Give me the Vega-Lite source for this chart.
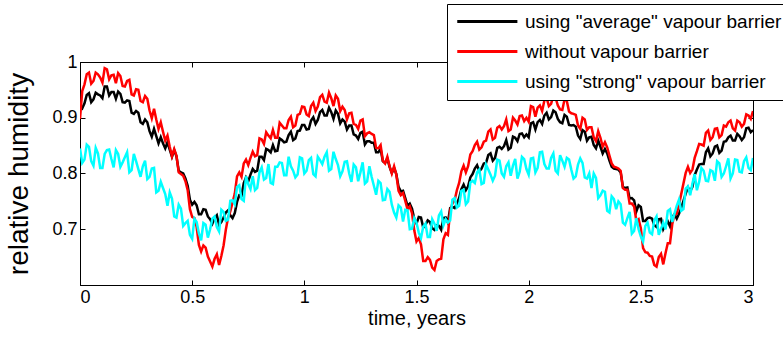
{
"$schema": "https://vega.github.io/schema/vega-lite/v6.json",
"width": 673, "height": 223,
"autosize": {"type": "none"},
"padding": {"left": 80, "top": 62, "right": 30, "bottom": 54},
"background": "white",
"config": {
 "view": {"stroke": "black", "strokeWidth": 1},
 "font": "Liberation Sans",
 "axis": {"grid": false, "domainColor": "black", "tickColor": "black", "tickSize": -5, "labelColor": "black", "labelFont": "Liberation Sans", "labelFontSize": 18, "titleFont": "Liberation Sans", "titleColor": "black", "titleFontWeight": "normal"}
},
"data": {"values": [
{"t":0.00,"a":0.921,"r":0.898,"s":0.845},
{"t":0.01,"a":0.917,"r":0.948,"s":0.819},
{"t":0.02,"a":0.926,"r":0.960,"s":0.825},
{"t":0.03,"a":0.941,"r":0.978,"s":0.852},
{"t":0.04,"a":0.944,"r":0.981,"s":0.848},
{"t":0.05,"a":0.928,"r":0.961,"s":0.822},
{"t":0.06,"a":0.933,"r":0.966,"s":0.814},
{"t":0.07,"a":0.945,"r":0.981,"s":0.846},
{"t":0.08,"a":0.942,"r":0.978,"s":0.836},
{"t":0.09,"a":0.940,"r":0.972,"s":0.810},
{"t":0.10,"a":0.935,"r":0.963,"s":0.810},
{"t":0.11,"a":0.956,"r":0.989,"s":0.835},
{"t":0.12,"a":0.956,"r":0.987,"s":0.842},
{"t":0.13,"a":0.940,"r":0.969,"s":0.843},
{"t":0.14,"a":0.946,"r":0.976,"s":0.826},
{"t":0.15,"a":0.946,"r":0.977,"s":0.811},
{"t":0.16,"a":0.934,"r":0.962,"s":0.842},
{"t":0.17,"a":0.947,"r":0.980,"s":0.835},
{"t":0.18,"a":0.943,"r":0.975,"s":0.812},
{"t":0.19,"a":0.928,"r":0.957,"s":0.820},
{"t":0.20,"a":0.927,"r":0.956,"s":0.829},
{"t":0.21,"a":0.931,"r":0.966,"s":0.838},
{"t":0.22,"a":0.930,"r":0.968,"s":0.802},
{"t":0.23,"a":0.909,"r":0.942,"s":0.806},
{"t":0.24,"a":0.907,"r":0.940,"s":0.835},
{"t":0.25,"a":0.912,"r":0.951,"s":0.822},
{"t":0.26,"a":0.909,"r":0.950,"s":0.808},
{"t":0.27,"a":0.892,"r":0.930,"s":0.794},
{"t":0.28,"a":0.889,"r":0.928,"s":0.813},
{"t":0.29,"a":0.897,"r":0.939,"s":0.823},
{"t":0.30,"a":0.892,"r":0.934,"s":0.790},
{"t":0.31,"a":0.876,"r":0.913,"s":0.794},
{"t":0.32,"a":0.866,"r":0.899,"s":0.809},
{"t":0.33,"a":0.880,"r":0.916,"s":0.810},
{"t":0.34,"a":0.867,"r":0.897,"s":0.766},
{"t":0.35,"a":0.854,"r":0.880,"s":0.769},
{"t":0.36,"a":0.865,"r":0.892,"s":0.785},
{"t":0.37,"a":0.854,"r":0.875,"s":0.774},
{"t":0.38,"a":0.845,"r":0.859,"s":0.763},
{"t":0.39,"a":0.856,"r":0.868,"s":0.742},
{"t":0.40,"a":0.843,"r":0.848,"s":0.766},
{"t":0.41,"a":0.830,"r":0.831,"s":0.755},
{"t":0.42,"a":0.842,"r":0.844,"s":0.723},
{"t":0.43,"a":0.831,"r":0.832,"s":0.721},
{"t":0.44,"a":0.805,"r":0.802,"s":0.744},
{"t":0.45,"a":0.802,"r":0.799,"s":0.737},
{"t":0.46,"a":0.800,"r":0.796,"s":0.706},
{"t":0.47,"a":0.791,"r":0.786,"s":0.711},
{"t":0.48,"a":0.778,"r":0.770,"s":0.715},
{"t":0.49,"a":0.753,"r":0.736,"s":0.690},
{"t":0.50,"a":0.744,"r":0.722,"s":0.683},
{"t":0.51,"a":0.749,"r":0.720,"s":0.719},
{"t":0.52,"a":0.743,"r":0.704,"s":0.713},
{"t":0.53,"a":0.727,"r":0.672,"s":0.693},
{"t":0.54,"a":0.727,"r":0.660,"s":0.680},
{"t":0.55,"a":0.736,"r":0.671,"s":0.711},
{"t":0.56,"a":0.735,"r":0.667,"s":0.708},
{"t":0.57,"a":0.723,"r":0.651,"s":0.685},
{"t":0.58,"a":0.718,"r":0.642,"s":0.700},
{"t":0.59,"a":0.710,"r":0.633,"s":0.719},
{"t":0.60,"a":0.720,"r":0.647,"s":0.723},
{"t":0.61,"a":0.725,"r":0.655,"s":0.704},
{"t":0.62,"a":0.708,"r":0.636,"s":0.696},
{"t":0.63,"a":0.713,"r":0.652,"s":0.735},
{"t":0.64,"a":0.721,"r":0.671,"s":0.731},
{"t":0.65,"a":0.730,"r":0.699,"s":0.715},
{"t":0.66,"a":0.734,"r":0.721,"s":0.717},
{"t":0.67,"a":0.725,"r":0.732,"s":0.751},
{"t":0.68,"a":0.720,"r":0.748,"s":0.752},
{"t":0.69,"a":0.729,"r":0.764,"s":0.745},
{"t":0.70,"a":0.749,"r":0.795,"s":0.776},
{"t":0.71,"a":0.761,"r":0.802,"s":0.779},
{"t":0.72,"a":0.760,"r":0.794,"s":0.754},
{"t":0.73,"a":0.783,"r":0.818,"s":0.751},
{"t":0.74,"a":0.793,"r":0.825,"s":0.795},
{"t":0.75,"a":0.786,"r":0.815,"s":0.781},
{"t":0.76,"a":0.798,"r":0.828,"s":0.772},
{"t":0.77,"a":0.808,"r":0.839,"s":0.795},
{"t":0.78,"a":0.803,"r":0.831,"s":0.770},
{"t":0.79,"a":0.805,"r":0.833,"s":0.774},
{"t":0.80,"a":0.830,"r":0.863,"s":0.802},
{"t":0.81,"a":0.830,"r":0.861,"s":0.811},
{"t":0.82,"a":0.824,"r":0.853,"s":0.789},
{"t":0.83,"a":0.844,"r":0.874,"s":0.792},
{"t":0.84,"a":0.842,"r":0.868,"s":0.817},
{"t":0.85,"a":0.838,"r":0.863,"s":0.783},
{"t":0.86,"a":0.851,"r":0.878,"s":0.781},
{"t":0.87,"a":0.840,"r":0.864,"s":0.812},
{"t":0.88,"a":0.841,"r":0.864,"s":0.812},
{"t":0.89,"a":0.863,"r":0.891,"s":0.820},
{"t":0.90,"a":0.860,"r":0.886,"s":0.819},
{"t":0.91,"a":0.856,"r":0.881,"s":0.797},
{"t":0.92,"a":0.857,"r":0.881,"s":0.797},
{"t":0.93,"a":0.869,"r":0.896,"s":0.830},
{"t":0.94,"a":0.875,"r":0.902,"s":0.813},
{"t":0.95,"a":0.860,"r":0.883,"s":0.805},
{"t":0.96,"a":0.863,"r":0.886,"s":0.793},
{"t":0.97,"a":0.876,"r":0.905,"s":0.798},
{"t":0.98,"a":0.877,"r":0.907,"s":0.829},
{"t":0.99,"a":0.887,"r":0.920,"s":0.827},
{"t":1.00,"a":0.887,"r":0.919,"s":0.800},
{"t":1.01,"a":0.879,"r":0.906,"s":0.805},
{"t":1.02,"a":0.880,"r":0.903,"s":0.824},
{"t":1.03,"a":0.895,"r":0.921,"s":0.828},
{"t":1.04,"a":0.901,"r":0.927,"s":0.799},
{"t":1.05,"a":0.889,"r":0.912,"s":0.795},
{"t":1.06,"a":0.896,"r":0.920,"s":0.830},
{"t":1.07,"a":0.910,"r":0.937,"s":0.824},
{"t":1.08,"a":0.914,"r":0.941,"s":0.817},
{"t":1.09,"a":0.904,"r":0.929,"s":0.830},
{"t":1.10,"a":0.904,"r":0.927,"s":0.838},
{"t":1.11,"a":0.918,"r":0.945,"s":0.805},
{"t":1.12,"a":0.910,"r":0.935,"s":0.808},
{"t":1.13,"a":0.898,"r":0.921,"s":0.839},
{"t":1.14,"a":0.913,"r":0.940,"s":0.826},
{"t":1.15,"a":0.907,"r":0.934,"s":0.815},
{"t":1.16,"a":0.890,"r":0.912,"s":0.795},
{"t":1.17,"a":0.897,"r":0.920,"s":0.804},
{"t":1.18,"a":0.893,"r":0.914,"s":0.821},
{"t":1.19,"a":0.879,"r":0.897,"s":0.822},
{"t":1.20,"a":0.886,"r":0.908,"s":0.800},
{"t":1.21,"a":0.886,"r":0.909,"s":0.785},
{"t":1.22,"a":0.870,"r":0.889,"s":0.816},
{"t":1.23,"a":0.868,"r":0.887,"s":0.811},
{"t":1.24,"a":0.862,"r":0.880,"s":0.786},
{"t":1.25,"a":0.873,"r":0.895,"s":0.802},
{"t":1.26,"a":0.875,"r":0.897,"s":0.820},
{"t":1.27,"a":0.852,"r":0.867,"s":0.782},
{"t":1.28,"a":0.858,"r":0.872,"s":0.786},
{"t":1.29,"a":0.858,"r":0.874,"s":0.813},
{"t":1.30,"a":0.855,"r":0.871,"s":0.794},
{"t":1.31,"a":0.855,"r":0.869,"s":0.778},
{"t":1.32,"a":0.838,"r":0.846,"s":0.762},
{"t":1.33,"a":0.838,"r":0.845,"s":0.787},
{"t":1.34,"a":0.844,"r":0.851,"s":0.783},
{"t":1.35,"a":0.822,"r":0.823,"s":0.752},
{"t":1.36,"a":0.819,"r":0.818,"s":0.753},
{"t":1.37,"a":0.827,"r":0.830,"s":0.772},
{"t":1.38,"a":0.812,"r":0.813,"s":0.767},
{"t":1.39,"a":0.801,"r":0.800,"s":0.744},
{"t":1.40,"a":0.810,"r":0.813,"s":0.730},
{"t":1.41,"a":0.799,"r":0.798,"s":0.721},
{"t":1.42,"a":0.776,"r":0.769,"s":0.743},
{"t":1.43,"a":0.768,"r":0.761,"s":0.739},
{"t":1.44,"a":0.769,"r":0.765,"s":0.714},
{"t":1.45,"a":0.756,"r":0.751,"s":0.735},
{"t":1.46,"a":0.742,"r":0.736,"s":0.734},
{"t":1.47,"a":0.746,"r":0.741,"s":0.700},
{"t":1.48,"a":0.737,"r":0.729,"s":0.701},
{"t":1.49,"a":0.719,"r":0.698,"s":0.720},
{"t":1.50,"a":0.710,"r":0.678,"s":0.712},
{"t":1.51,"a":0.722,"r":0.684,"s":0.694},
{"t":1.52,"a":0.721,"r":0.673,"s":0.684},
{"t":1.53,"a":0.703,"r":0.643,"s":0.705},
{"t":1.54,"a":0.708,"r":0.643,"s":0.710},
{"t":1.55,"a":0.716,"r":0.650,"s":0.686},
{"t":1.56,"a":0.713,"r":0.645,"s":0.686},
{"t":1.57,"a":0.702,"r":0.631,"s":0.718},
{"t":1.58,"a":0.699,"r":0.627,"s":0.710},
{"t":1.59,"a":0.707,"r":0.643,"s":0.697},
{"t":1.60,"a":0.706,"r":0.646,"s":0.725},
{"t":1.61,"a":0.699,"r":0.647,"s":0.732},
{"t":1.62,"a":0.720,"r":0.682,"s":0.707},
{"t":1.63,"a":0.721,"r":0.693,"s":0.718},
{"t":1.64,"a":0.712,"r":0.690,"s":0.712},
{"t":1.65,"a":0.738,"r":0.733,"s":0.716},
{"t":1.66,"a":0.740,"r":0.746,"s":0.753},
{"t":1.67,"a":0.738,"r":0.752,"s":0.756},
{"t":1.68,"a":0.746,"r":0.770,"s":0.739},
{"t":1.69,"a":0.756,"r":0.783,"s":0.742},
{"t":1.70,"a":0.772,"r":0.804,"s":0.769},
{"t":1.71,"a":0.780,"r":0.814,"s":0.771},
{"t":1.72,"a":0.770,"r":0.802,"s":0.745},
{"t":1.73,"a":0.777,"r":0.813,"s":0.750},
{"t":1.74,"a":0.793,"r":0.834,"s":0.784},
{"t":1.75,"a":0.799,"r":0.840,"s":0.787},
{"t":1.76,"a":0.809,"r":0.851,"s":0.783},
{"t":1.77,"a":0.815,"r":0.857,"s":0.802},
{"t":1.78,"a":0.804,"r":0.843,"s":0.807},
{"t":1.79,"a":0.809,"r":0.847,"s":0.781},
{"t":1.80,"a":0.818,"r":0.857,"s":0.783},
{"t":1.81,"a":0.819,"r":0.859,"s":0.816},
{"t":1.82,"a":0.833,"r":0.875,"s":0.807},
{"t":1.83,"a":0.836,"r":0.879,"s":0.798},
{"t":1.84,"a":0.823,"r":0.861,"s":0.787},
{"t":1.85,"a":0.828,"r":0.864,"s":0.796},
{"t":1.86,"a":0.846,"r":0.882,"s":0.825},
{"t":1.87,"a":0.848,"r":0.885,"s":0.823},
{"t":1.88,"a":0.844,"r":0.879,"s":0.800},
{"t":1.89,"a":0.849,"r":0.885,"s":0.794},
{"t":1.90,"a":0.860,"r":0.897,"s":0.813},
{"t":1.91,"a":0.843,"r":0.876,"s":0.820},
{"t":1.92,"a":0.846,"r":0.879,"s":0.796},
{"t":1.93,"a":0.866,"r":0.900,"s":0.814},
{"t":1.94,"a":0.864,"r":0.895,"s":0.826},
{"t":1.95,"a":0.858,"r":0.888,"s":0.791},
{"t":1.96,"a":0.871,"r":0.903,"s":0.803},
{"t":1.97,"a":0.872,"r":0.904,"s":0.830},
{"t":1.98,"a":0.865,"r":0.894,"s":0.826},
{"t":1.99,"a":0.870,"r":0.900,"s":0.808},
{"t":2.00,"a":0.865,"r":0.893,"s":0.798},
{"t":2.01,"a":0.890,"r":0.921,"s":0.827},
{"t":2.02,"a":0.892,"r":0.919,"s":0.828},
{"t":2.03,"a":0.879,"r":0.902,"s":0.802},
{"t":2.04,"a":0.892,"r":0.918,"s":0.810},
{"t":2.05,"a":0.896,"r":0.922,"s":0.838},
{"t":2.06,"a":0.889,"r":0.912,"s":0.839},
{"t":2.07,"a":0.904,"r":0.931,"s":0.817},
{"t":2.08,"a":0.909,"r":0.936,"s":0.809},
{"t":2.09,"a":0.897,"r":0.921,"s":0.809},
{"t":2.10,"a":0.901,"r":0.925,"s":0.828},
{"t":2.11,"a":0.913,"r":0.940,"s":0.836},
{"t":2.12,"a":0.910,"r":0.936,"s":0.805},
{"t":2.13,"a":0.898,"r":0.922,"s":0.800},
{"t":2.14,"a":0.892,"r":0.915,"s":0.833},
{"t":2.15,"a":0.890,"r":0.914,"s":0.823},
{"t":2.16,"a":0.905,"r":0.933,"s":0.812},
{"t":2.17,"a":0.902,"r":0.930,"s":0.828},
{"t":2.18,"a":0.887,"r":0.911,"s":0.825},
{"t":2.19,"a":0.886,"r":0.908,"s":0.807},
{"t":2.20,"a":0.887,"r":0.907,"s":0.791},
{"t":2.21,"a":0.884,"r":0.905,"s":0.795},
{"t":2.22,"a":0.868,"r":0.886,"s":0.816},
{"t":2.23,"a":0.862,"r":0.880,"s":0.827},
{"t":2.24,"a":0.878,"r":0.900,"s":0.819},
{"t":2.25,"a":0.875,"r":0.897,"s":0.793},
{"t":2.26,"a":0.859,"r":0.878,"s":0.791},
{"t":2.27,"a":0.865,"r":0.883,"s":0.800},
{"t":2.28,"a":0.866,"r":0.883,"s":0.774},
{"t":2.29,"a":0.851,"r":0.865,"s":0.800},
{"t":2.30,"a":0.845,"r":0.858,"s":0.792},
{"t":2.31,"a":0.859,"r":0.876,"s":0.756},
{"t":2.32,"a":0.848,"r":0.864,"s":0.761},
{"t":2.33,"a":0.836,"r":0.848,"s":0.769},
{"t":2.34,"a":0.844,"r":0.856,"s":0.767},
{"t":2.35,"a":0.836,"r":0.847,"s":0.733},
{"t":2.36,"a":0.823,"r":0.832,"s":0.730},
{"t":2.37,"a":0.812,"r":0.818,"s":0.759},
{"t":2.38,"a":0.809,"r":0.812,"s":0.754},
{"t":2.39,"a":0.808,"r":0.811,"s":0.736},
{"t":2.40,"a":0.807,"r":0.809,"s":0.750},
{"t":2.41,"a":0.802,"r":0.805,"s":0.745},
{"t":2.42,"a":0.776,"r":0.774,"s":0.712},
{"t":2.43,"a":0.774,"r":0.771,"s":0.708},
{"t":2.44,"a":0.775,"r":0.771,"s":0.720},
{"t":2.45,"a":0.755,"r":0.746,"s":0.731},
{"t":2.46,"a":0.756,"r":0.746,"s":0.692},
{"t":2.47,"a":0.752,"r":0.741,"s":0.697},
{"t":2.48,"a":0.732,"r":0.715,"s":0.720},
{"t":2.49,"a":0.743,"r":0.718,"s":0.700},
{"t":2.50,"a":0.740,"r":0.702,"s":0.687},
{"t":2.51,"a":0.715,"r":0.666,"s":0.678},
{"t":2.52,"a":0.715,"r":0.659,"s":0.706},
{"t":2.53,"a":0.720,"r":0.658,"s":0.712},
{"t":2.54,"a":0.721,"r":0.652,"s":0.694},
{"t":2.55,"a":0.719,"r":0.651,"s":0.691},
{"t":2.56,"a":0.707,"r":0.636,"s":0.716},
{"t":2.57,"a":0.704,"r":0.633,"s":0.723},
{"t":2.58,"a":0.718,"r":0.650,"s":0.690},
{"t":2.59,"a":0.719,"r":0.656,"s":0.701},
{"t":2.60,"a":0.700,"r":0.637,"s":0.712},
{"t":2.61,"a":0.708,"r":0.657,"s":0.700},
{"t":2.62,"a":0.714,"r":0.675,"s":0.733},
{"t":2.63,"a":0.705,"r":0.675,"s":0.736},
{"t":2.64,"a":0.722,"r":0.709,"s":0.713},
{"t":2.65,"a":0.727,"r":0.727,"s":0.728},
{"t":2.66,"a":0.719,"r":0.728,"s":0.742},
{"t":2.67,"a":0.728,"r":0.744,"s":0.753},
{"t":2.68,"a":0.738,"r":0.763,"s":0.733},
{"t":2.69,"a":0.751,"r":0.782,"s":0.736},
{"t":2.70,"a":0.764,"r":0.801,"s":0.773},
{"t":2.71,"a":0.775,"r":0.812,"s":0.777},
{"t":2.72,"a":0.768,"r":0.801,"s":0.761},
{"t":2.73,"a":0.776,"r":0.807,"s":0.782},
{"t":2.74,"a":0.797,"r":0.828,"s":0.799},
{"t":2.75,"a":0.807,"r":0.840,"s":0.770},
{"t":2.76,"a":0.816,"r":0.853,"s":0.785},
{"t":2.77,"a":0.817,"r":0.852,"s":0.810},
{"t":2.78,"a":0.817,"r":0.850,"s":0.805},
{"t":2.79,"a":0.838,"r":0.873,"s":0.787},
{"t":2.80,"a":0.845,"r":0.877,"s":0.786},
{"t":2.81,"a":0.831,"r":0.860,"s":0.806},
{"t":2.82,"a":0.836,"r":0.865,"s":0.804},
{"t":2.83,"a":0.848,"r":0.880,"s":0.787},
{"t":2.84,"a":0.850,"r":0.881,"s":0.822},
{"t":2.85,"a":0.837,"r":0.865,"s":0.818},
{"t":2.86,"a":0.841,"r":0.869,"s":0.794},
{"t":2.87,"a":0.857,"r":0.886,"s":0.800},
{"t":2.88,"a":0.858,"r":0.884,"s":0.813},
{"t":2.89,"a":0.865,"r":0.892,"s":0.827},
{"t":2.90,"a":0.868,"r":0.895,"s":0.791},
{"t":2.91,"a":0.859,"r":0.881,"s":0.800},
{"t":2.92,"a":0.859,"r":0.877,"s":0.825},
{"t":2.93,"a":0.871,"r":0.895,"s":0.824},
{"t":2.94,"a":0.867,"r":0.892,"s":0.803},
{"t":2.95,"a":0.860,"r":0.884,"s":0.802},
{"t":2.96,"a":0.865,"r":0.889,"s":0.822},
{"t":2.97,"a":0.881,"r":0.906,"s":0.829},
{"t":2.98,"a":0.882,"r":0.904,"s":0.810},
{"t":2.99,"a":0.874,"r":0.898,"s":0.806},
{"t":3.00,"a":0.878,"r":0.912,"s":0.828}
]},
"layer": [
 {"mark": {"type": "line", "strokeWidth": 2.5, "clip": true},
  "encoding": {
   "x": {"field": "t", "type": "quantitative", "scale": {"domain": [0, 3], "nice": false, "zero": false},
         "axis": {"values": [0, 0.5, 1, 1.5, 2, 2.5, 3], "format": "~g", "title": "time, years", "titleFontSize": 20, "labelPadding": 8, "titlePadding": 2}},
   "y": {"field": "a", "type": "quantitative", "scale": {"domain": [0.6, 1], "nice": false, "zero": false},
         "axis": {"values": [0.7, 0.8, 0.9, 1], "format": "~g", "title": "relative humidity", "titleFontSize": 28, "labelPadding": 8, "titlePadding": 18}},
   "color": {"datum": "using \"average\" vapour barrier", "type": "nominal",
     "scale": {"domain": ["using \"average\" vapour barrier", "without vapour barrier", "using \"strong\" vapour barrier"], "range": ["#000000", "#ff0000", "#00ffff"]},
     "legend": {"title": null, "orient": "none", "legendX": 367, "legendY": -58, "fillColor": "white", "strokeColor": "black", "padding": 8,
       "labelFont": "Liberation Sans", "labelFontSize": 19, "labelColor": "black", "labelLimit": 1000, "labelOffset": 51,
       "symbolType": "M-1,0H7.3", "symbolStrokeWidth": 3, "symbolSize": 210, "rowPadding": 10}}
  }},
 {"mark": {"type": "line", "strokeWidth": 2.5, "clip": true},
  "encoding": {
   "x": {"field": "t", "type": "quantitative", "axis": null},
   "y": {"field": "r", "type": "quantitative", "axis": null},
   "color": {"datum": "without vapour barrier", "type": "nominal"}
  }},
 {"mark": {"type": "line", "strokeWidth": 2.5, "clip": true},
  "encoding": {
   "x": {"field": "t", "type": "quantitative", "axis": null},
   "y": {"field": "s", "type": "quantitative", "axis": null},
   "color": {"datum": "using \"strong\" vapour barrier", "type": "nominal"}
  }},
 {"mark": {"type": "point", "opacity": 0},
  "encoding": {
   "x": {"field": "t", "type": "quantitative", "axis": {"orient": "top", "values": [0, 0.5, 1, 1.5, 2, 2.5, 3], "labels": false, "title": null}},
   "y": {"field": "a", "type": "quantitative", "axis": {"orient": "right", "values": [0.7, 0.8, 0.9, 1], "labels": false, "title": null}}
  }}
],
"resolve": {"axis": {"x": "independent", "y": "independent"}}
}
